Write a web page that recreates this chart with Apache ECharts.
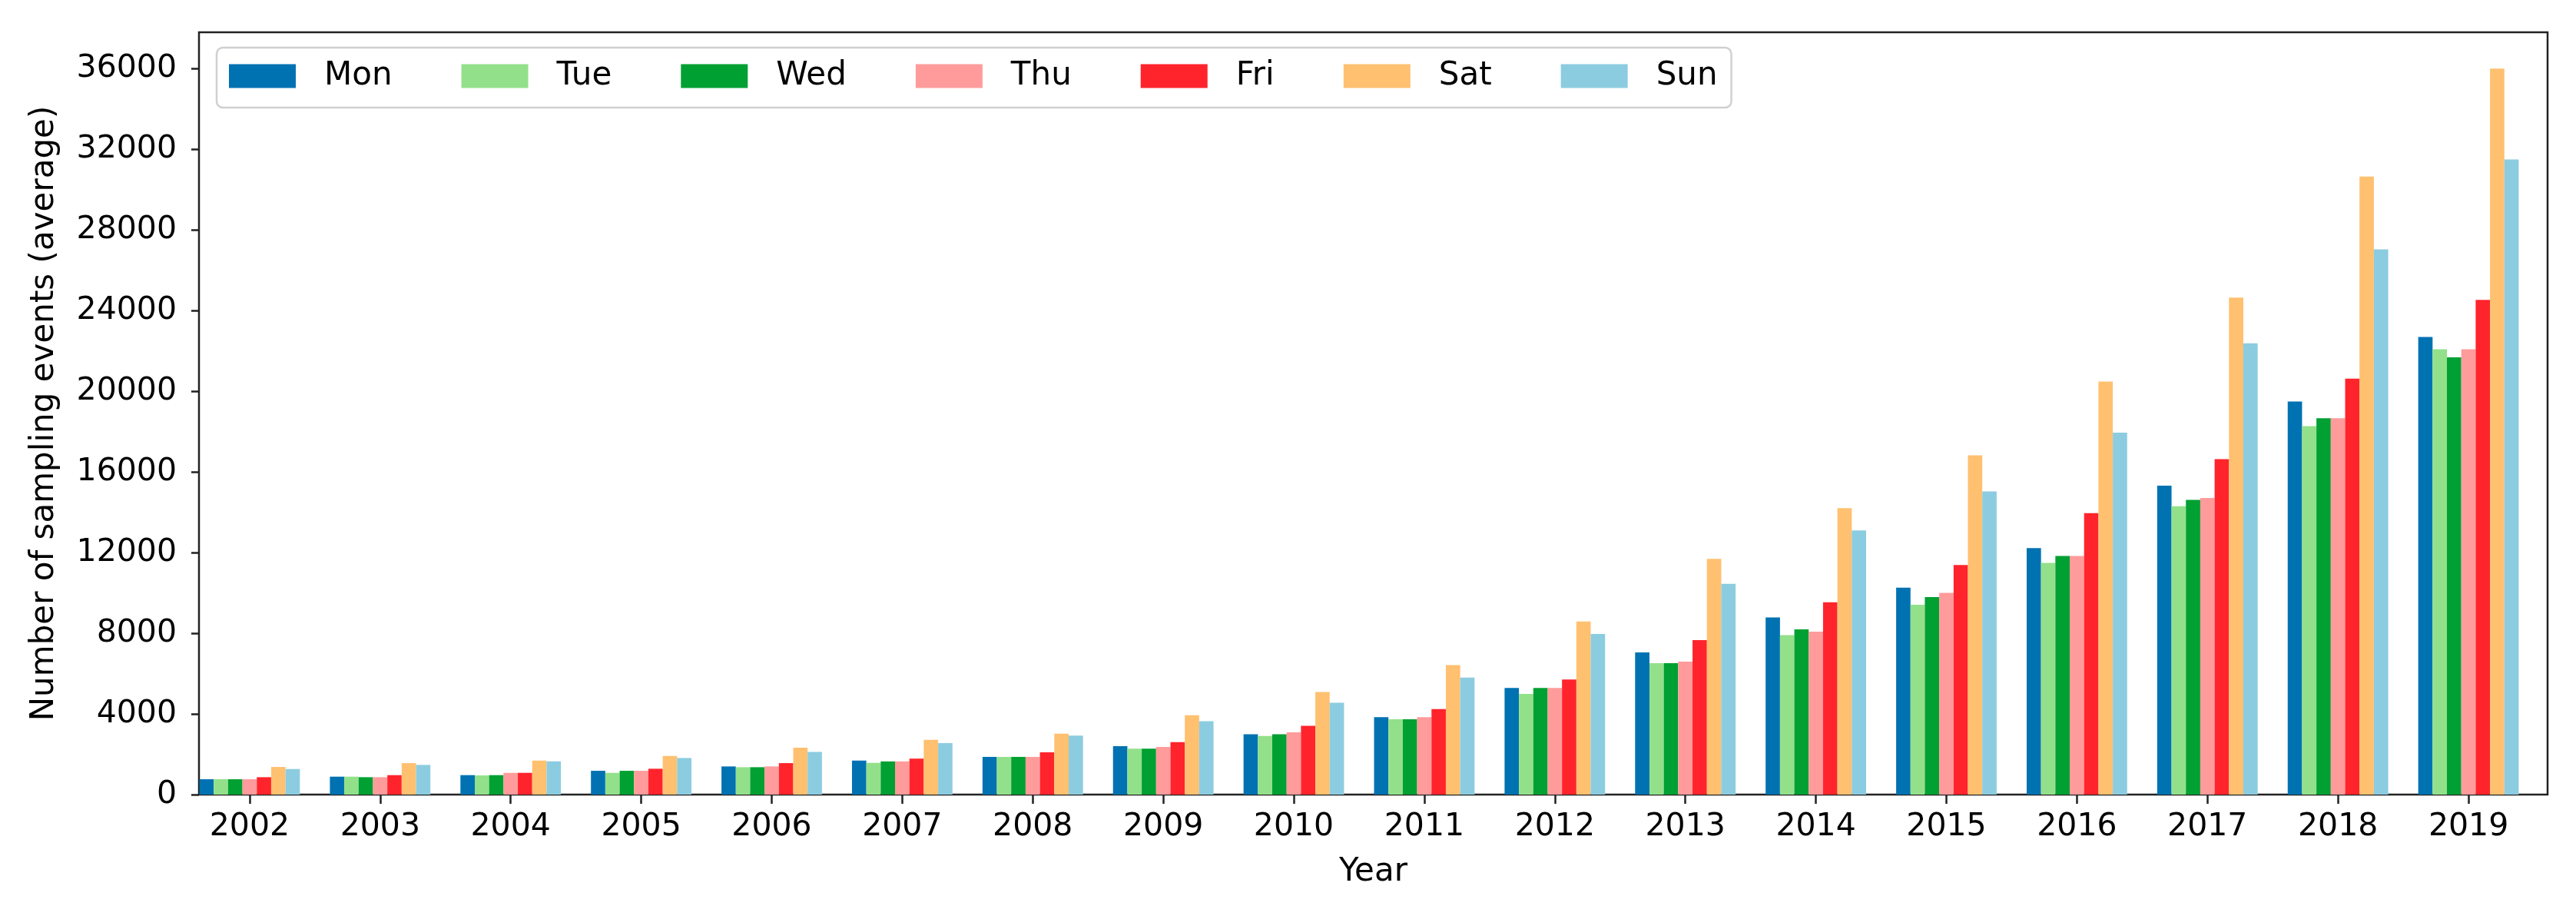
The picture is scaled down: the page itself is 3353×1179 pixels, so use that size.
<!DOCTYPE html>
<html>
<head>
<meta charset="utf-8">
<script src="https://cdn.jsdelivr.net/npm/echarts@6/dist/echarts.min.js"></script>
<style>
html,body{margin:0;padding:0;background:#fff;}
#chart{width:3353px;height:1179px;}
</style>
</head>
<body>
<div id="chart"></div>
<script>
const years = [2002,2003,2004,2005,2006,2007,2008,2009,2010,2011,2012,2013,2014,2015,2016,2017,2018,2019];
const dayNames = ['Mon','Tue','Wed','Thu','Fri','Sat','Sun'];
const mon = [761, 888, 964, 1179, 1395, 1686, 1869, 2403, 2993, 3836, 5283, 7053, 8781, 10257, 12224, 15315, 19492, 22696];
const tue = [760, 888, 951, 1078, 1357, 1574, 1869, 2276, 2908, 3737, 4988, 6519, 7910, 9414, 11493, 14303, 18270, 22084];
const wed = [760, 862, 964, 1179, 1357, 1644, 1869, 2276, 2993, 3737, 5283, 6519, 8191, 9793, 11830, 14612, 18662, 21677];
const thu = [760, 862, 1078, 1179, 1395, 1644, 1869, 2360, 3091, 3836, 5283, 6589, 8079, 10004, 11830, 14710, 18662, 22084];
const fri = [862, 964, 1078, 1281, 1560, 1784, 2093, 2599, 3414, 4243, 5704, 7657, 9540, 11381, 13952, 16630, 20629, 24531];
const sat = [1370, 1560, 1686, 1915, 2320, 2712, 3021, 3934, 5086, 6421, 8585, 11690, 14205, 16820, 20484, 24648, 30648, 36000];
const sun = [1268, 1471, 1648, 1813, 2118, 2557, 2922, 3639, 4552, 5803, 7966, 10453, 13095, 15034, 17950, 22376, 27037, 31494];
const yTicks = [0,4000,8000,12000,16000,20000,24000,28000,32000,36000];
const seriesValues = [mon, tue, wed, thu, fri, sat, sun];
const colors = ['#0072b2','#93e08a','#00a032','#ff9b9b','#ff242c','#ffc070','#8ccce0'];

const FONT = 'DejaVu Sans';
const chart = echarts.init(document.getElementById('chart'), null, {renderer:'canvas'});
chart.setOption({
  animation: false,
  backgroundColor: '#ffffff',
  color: colors,
  grid: {
    left: 259, right: 37, top: 42, bottom: 145,
    show: true, borderColor: '#222222', borderWidth: 2.5, backgroundColor: 'transparent',
    containLabel: false
  },
  legend: {
    data: dayNames,
    left: 282, top: 62,
    orient: 'horizontal',
    icon: 'rect',
    itemWidth: 87, itemHeight: 31,
    itemGap: 90,
    padding: [16, 18, 20, 16],
    backgroundColor: '#ffffff',
    borderColor: '#d0d0d0', borderWidth: 2.5, borderRadius: 8,
    selectedMode: false,
    textStyle: { fontFamily: FONT, fontSize: 42, color: '#000', padding: [0,0,0,32] }
  },
  xAxis: {
    type: 'value',
    min: 2001.612, max: 2019.606,
    name: 'Year', nameLocation: 'middle', nameGap: 80,
    nameTextStyle: { fontFamily: FONT, fontSize: 42, color: '#000' },
    axisLine: { show: false },
    splitLine: { show: false },
    axisTick: { show: true, customValues: years, length: 12, lineStyle: { color: '#222', width: 2.5 } },
    axisLabel: { customValues: years, margin: 22, fontFamily: FONT, fontSize: 41, color: '#000', formatter: v => String(v) }
  },
  yAxis: {
    type: 'value',
    min: 0, max: 37800,
    name: 'Number of sampling events (average)', nameLocation: 'middle', nameGap: 180,
    nameTextStyle: { fontFamily: FONT, fontSize: 42, color: '#000' },
    axisLine: { show: false },
    splitLine: { show: false },
    axisTick: { show: true, customValues: yTicks, length: 10, lineStyle: { color: '#222', width: 2.5 } },
    axisLabel: { customValues: yTicks, margin: 29, fontFamily: FONT, fontSize: 41, color: '#000', formatter: v => String(v) }
  },
  series: dayNames.map((name, i) => ({
    name: name,
    type: 'bar',
    barWidth: '11%',
    barGap: '0%',
    itemStyle: { color: colors[i] },
    data: years.map((y, j) => [y, seriesValues[i][j]])
  }))
});
</script>
</body>
</html>
